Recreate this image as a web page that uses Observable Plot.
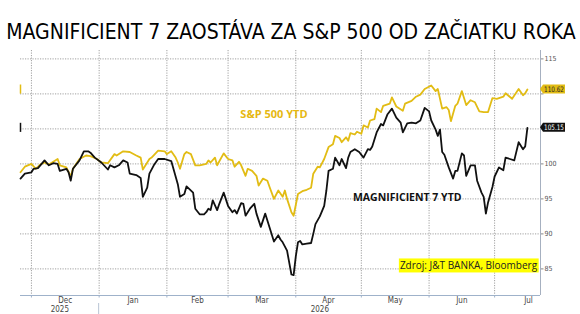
<!DOCTYPE html>
<html>
<head>
<meta charset="utf-8">
<script src="https://cdn.jsdelivr.net/npm/d3@7"></script>
<script src="https://cdn.jsdelivr.net/npm/@observablehq/plot@0.6"></script>
<style>
  html, body { margin: 0; padding: 0; background: #fff; }
  #chart svg { display: block; }
</style>
</head>
<body>
<div id="chart"></div>
<script>
// S&P 500 index, rebased to 100
const spxDates = ["2025-11-26","2025-11-28","2025-12-01","2025-12-03","2025-12-05","2025-12-07","2025-12-09","2025-12-13","2025-12-14","2025-12-17","2025-12-19","2025-12-20","2025-12-23","2025-12-26","2025-12-28","2025-12-31","2026-01-02","2026-01-05","2026-01-08","2026-01-09","2026-01-12","2026-01-15","2026-01-18","2026-01-20","2026-01-21","2026-01-24","2026-01-25","2026-01-28","2026-01-31","2026-02-01","2026-02-03","2026-02-05","2026-02-06","2026-02-07","2026-02-09","2026-02-10","2026-02-12","2026-02-14","2026-02-16","2026-02-19","2026-02-20","2026-02-21","2026-02-23","2026-02-24","2026-02-27","2026-03-01","2026-03-03","2026-03-04","2026-03-06","2026-03-07","2026-03-09","2026-03-10","2026-03-12","2026-03-14","2026-03-15","2026-03-17","2026-03-19","2026-03-20","2026-03-22","2026-03-24","2026-03-26","2026-03-27","2026-03-28","2026-03-30","2026-03-31","2026-04-02","2026-04-04","2026-04-06","2026-04-08","2026-04-09","2026-04-11","2026-04-12","2026-04-14","2026-04-16","2026-04-18","2026-04-19","2026-04-21","2026-04-22","2026-04-24","2026-04-25","2026-04-26","2026-04-28","2026-04-29","2026-05-01","2026-05-02","2026-05-04","2026-05-05","2026-05-07","2026-05-08","2026-05-10","2026-05-11","2026-05-14","2026-05-15","2026-05-17","2026-05-20","2026-05-21","2026-05-24","2026-05-26","2026-05-28","2026-05-30","2026-06-02","2026-06-04","2026-06-05","2026-06-07","2026-06-09","2026-06-10","2026-06-11","2026-06-13","2026-06-14","2026-06-16","2026-06-17","2026-06-18","2026-06-20","2026-06-22","2026-06-24","2026-06-26","2026-06-28","2026-06-30","2026-07-02","2026-07-05","2026-07-06","2026-07-09","2026-07-12","2026-07-14","2026-07-15","2026-07-16"];
const spxValues = [98.8,99.6,100.0,99.3,99.9,100.2,99.9,100.7,99.8,99.5,98.2,99.3,100.7,101.2,101.1,100.7,100.2,100.1,101.4,101.2,101.8,101.7,101.2,100.9,99.2,100.7,100.9,101.9,101.8,101.4,101.8,100.9,100.2,99.3,101.4,101.7,101.4,99.8,99.8,100.0,100.5,100.2,100.9,99.8,101.5,100.7,100.5,99.6,100.3,99.8,98.3,99.3,99.0,98.3,96.9,97.9,97.6,96.7,95.0,96.2,95.3,96.2,95.0,93.1,92.6,95.7,96.1,96.3,96.6,98.6,99.6,99.5,100.7,102.4,102.8,104.0,103.7,103.1,103.8,103.3,104.4,104.2,104.6,104.3,105.5,105.2,106.2,106.4,107.9,107.4,108.3,108.6,109.5,108.2,107.6,108.6,109.0,109.6,109.9,110.7,111.2,110.4,110.7,107.9,108.1,107.7,106.1,108.3,108.6,110.4,109.4,108.4,109.1,108.8,107.5,107.4,107.4,109.4,109.3,109.6,110.1,109.3,110.7,109.8,110.1,110.62];

// Magnificent 7 basket, rebased to 100
const mag7Dates = ["2025-11-26","2025-11-28","2025-12-01","2025-12-02","2025-12-04","2025-12-07","2025-12-09","2025-12-11","2025-12-13","2025-12-14","2025-12-17","2025-12-18","2025-12-19","2025-12-20","2025-12-23","2025-12-25","2025-12-27","2025-12-28","2025-12-30","2026-01-02","2026-01-05","2026-01-06","2026-01-08","2026-01-10","2026-01-12","2026-01-14","2026-01-15","2026-01-18","2026-01-20","2026-01-21","2026-01-23","2026-01-24","2026-01-26","2026-01-28","2026-01-31","2026-02-03","2026-02-04","2026-02-06","2026-02-07","2026-02-09","2026-02-10","2026-02-13","2026-02-14","2026-02-16","2026-02-18","2026-02-19","2026-02-20","2026-02-21","2026-02-22","2026-02-24","2026-02-25","2026-02-27","2026-03-01","2026-03-03","2026-03-04","2026-03-05","2026-03-07","2026-03-08","2026-03-09","2026-03-11","2026-03-13","2026-03-14","2026-03-16","2026-03-18","2026-03-20","2026-03-22","2026-03-24","2026-03-25","2026-03-26","2026-03-28","2026-03-29","2026-03-30","2026-03-31","2026-04-01","2026-04-02","2026-04-03","2026-04-04","2026-04-06","2026-04-08","2026-04-09","2026-04-10","2026-04-12","2026-04-14","2026-04-15","2026-04-16","2026-04-18","2026-04-19","2026-04-21","2026-04-22","2026-04-24","2026-04-25","2026-04-26","2026-04-28","2026-04-30","2026-05-02","2026-05-04","2026-05-05","2026-05-06","2026-05-08","2026-05-10","2026-05-11","2026-05-13","2026-05-15","2026-05-17","2026-05-19","2026-05-20","2026-05-22","2026-05-24","2026-05-26","2026-05-28","2026-05-30","2026-06-01","2026-06-02","2026-06-04","2026-06-05","2026-06-06","2026-06-07","2026-06-08","2026-06-10","2026-06-12","2026-06-13","2026-06-14","2026-06-16","2026-06-17","2026-06-18","2026-06-20","2026-06-22","2026-06-23","2026-06-25","2026-06-26","2026-06-27","2026-06-28","2026-06-30","2026-07-01","2026-07-03","2026-07-05","2026-07-06","2026-07-08","2026-07-10","2026-07-12","2026-07-14","2026-07-15","2026-07-16"];
const mag7Values = [97.9,98.6,98.8,99.3,99.4,100.5,99.8,100.1,100.0,99.0,99.3,98.8,97.6,99.3,100.5,101.8,101.8,101.6,100.9,100.2,99.2,99.8,99.5,99.8,100.5,100.2,98.6,98.4,98.0,95.3,96.6,98.6,99.8,100.7,100.7,100.4,99.3,97.1,95.3,95.7,96.8,95.9,93.6,92.8,92.8,93.1,93.6,93.4,94.8,93.4,94.3,95.9,94.0,93.1,93.4,92.9,94.4,94.3,92.6,93.6,94.3,92.9,91.0,92.9,90.9,88.9,89.8,89.2,88.8,87.6,85.9,84.2,84.1,86.8,88.8,89.0,88.5,88.6,88.7,90.0,91.4,92.5,94.0,96.2,99.0,99.3,100.9,99.8,100.7,99.4,100.9,101.7,102.1,101.7,100.9,102.1,102.0,102.5,104.5,105.7,105.5,107.1,107.9,106.6,105.9,104.5,105.8,105.9,105.8,106.2,108.0,107.5,106.2,104.9,104.0,104.9,101.7,101.3,99.5,97.9,99.0,99.0,101.5,101.2,98.3,99.8,99.8,97.6,95.9,95.3,92.9,94.5,96.7,98.2,99.5,99.1,100.9,100.7,100.5,103.1,102.1,102.5,105.15];

const lastSpx = 110.62;
const lastMag7 = 105.15;

// Axis ticks and labels
const yTicks = [85, 90, 95, 100, 105, 110, 115];
const monthStarts = ["2025-12-01","2026-01-01","2026-02-01","2026-03-01","2026-04-01","2026-05-01","2026-06-01","2026-07-01","2026-08-01"];
const monthLabels = ["Dec","Jan","Feb","Mar","Apr","May","Jun","Jul"];
const yearLabels = ["2025","2026"];
const yearStart = "2026-01-01";

const titleText = "MAGNIFICIENT 7 ZAOSTÁVA ZA S&P 500 OD ZAČIATKU ROKA";
const spxLabel = "S&P 500 YTD";
const mag7Label = "MAGNIFICIENT 7 YTD";
const sourceText = "Zdroj: J&T BANKA, Bloomberg";

const gold = "#e2bc14";
const ink = "#111111";

const parse = d3.utcParse("%Y-%m-%d");
const spx = spxDates.map((d, i) => ({date: parse(d), value: spxValues[i]}));
const mag7 = mag7Dates.map((d, i) => ({date: parse(d), value: mag7Values[i]}));
const xDomain = [parse("2025-11-26"), parse("2026-07-22")];
const yDomain = [81.2, 116.2];

const months = monthStarts.map(parse);
const gridMonths = months.slice(0, 8);
const monthMids = monthLabels.map((m, i) => ({label: m, date: new Date((+months[i] + +months[i + 1]) / 2)}));
const yStart = parse(yearStart);
const yearMids = [
  {label: yearLabels[0], date: new Date((+xDomain[0] + +yStart) / 2)},
  {label: yearLabels[1], date: new Date((+yStart + +xDomain[1]) / 2)}
];

// Tick labels that sit under the last-value tags stay blank
const tagged = [lastSpx, lastMag7];
const tickLabel = t => tagged.some(v => Math.abs(v - t) < 1) ? "" : String(t);

const narrow = "'Liberation Sans Narrow', 'DejaVu Sans Condensed', 'Liberation Sans', sans-serif";
const grid = {stroke: "#a0a0a0", strokeDasharray: "1.2,1.3", strokeWidth: 1};

const chart = Plot.plot({
  width: 580,
  height: 314,
  marginTop: 50,
  marginRight: 40,
  marginBottom: 19,
  marginLeft: 20,
  style: {background: "#fff", fontFamily: narrow},
  x: {type: "utc", domain: xDomain, axis: null},
  y: {domain: yDomain, axis: null},
  marks: [
    Plot.ruleY(yTicks, grid),
    Plot.ruleX(gridMonths, grid),
    Plot.ruleY([yDomain[0]], {stroke: "#9fb2ca", strokeWidth: 1}),
    Plot.ruleX([xDomain[1]], {stroke: "#a6b0c0", strokeWidth: 1}),
    Plot.axisY(yTicks, {anchor: "right", tickSize: 2.5, tickPadding: 1.5, tickFormat: tickLabel, fontSize: 7, fill: "#555", stroke: "#888", label: null}),
    Plot.axisX(gridMonths, {anchor: "bottom", tickSize: 2.5, tickFormat: () => "", stroke: "#9fb2ca", label: null}),
    Plot.text(monthMids, {x: "date", text: "label", frameAnchor: "bottom", lineAnchor: "top", dy: 2, fontSize: 8, fill: "#444"}),
    Plot.text(yearMids, {x: "date", text: "label", frameAnchor: "bottom", lineAnchor: "top", dy: 11, fontSize: 8, fill: "#444"}),
    Plot.line(spx, {x: "date", y: "value", stroke: gold, strokeWidth: 1.8}),
    Plot.line(mag7, {x: "date", y: "value", stroke: ink, strokeWidth: 1.8}),
    Plot.ruleX([lastSpx], {x: () => xDomain[0], y1: d => d - 0.65, y2: d => d + 0.65, stroke: gold, strokeWidth: 1.5}),
    Plot.ruleX([lastMag7], {x: () => xDomain[0], y1: d => d - 0.65, y2: d => d + 0.65, stroke: ink, strokeWidth: 1.5}),
    Plot.text([spxLabel], {x: parse("2026-03-22"), y: 107.0, text: d => d, fill: "#e6b812", fontSize: 11, fontWeight: "bold", fontFamily: "'Open Sans', sans-serif"}),
    Plot.text([mag7Label], {x: parse("2026-05-22"), y: 95.2, text: d => d, fill: ink, fontSize: 10.5, fontWeight: "bold", fontFamily: "'Open Sans', sans-serif"})
  ]
});

document.getElementById("chart").appendChild(chart);

const svg = d3.select(chart);
const xs = chart.scale("x");
const ys = chart.scale("y");
const right = 580 - 40;

// Title across the top, sized to span the width
const title = svg.append("text")
  .attr("x", 291).attr("y", 33)
  .attr("text-anchor", "middle").attr("dominant-baseline", "middle")
  .attr("font-family", narrow).attr("font-size", 22).attr("fill", "#000")
  .text(titleText);
const natural = title.node().getComputedTextLength();
title.attr("font-size", Math.min(22, 22 * 570 / natural));

// Year separator below the axis
const sepX = xs.apply(yStart);
svg.append("line")
  .attr("x1", sepX).attr("x2", sepX).attr("y1", 303).attr("y2", 314)
  .attr("stroke", "#b8c4d4").attr("stroke-width", 1);

// Last-value tags on the right axis
[[lastSpx, gold, "#222"], [lastMag7, "#111", "#fff"]].forEach(([v, bg, fg]) => {
  const cy = ys.apply(v);
  const g = svg.append("g");
  g.append("path")
    .attr("d", `M${right},${cy} L${right + 3},${cy - 4.5} L${right + 25},${cy - 4.5} L${right + 25},${cy + 4.5} L${right + 3},${cy + 4.5} Z`)
    .attr("fill", bg);
  g.append("text")
    .attr("x", right + 14).attr("y", cy).attr("dy", "0.35em")
    .attr("text-anchor", "middle").attr("font-family", narrow).attr("font-size", 7.5)
    .attr("textLength", 20).attr("lengthAdjust", "spacingAndGlyphs")
    .attr("fill", fg).text(v.toFixed(2));
});

// Source note with highlighted background
const src = svg.append("g");
const srcText = src.append("text")
  .attr("x", 468.5).attr("y", ys.apply(85.35)).attr("dy", "0.35em")
  .attr("text-anchor", "middle").attr("font-family", "'Open Sans', sans-serif")
  .attr("font-size", 10).attr("fill", "#222").text(sourceText);
const bb = srcText.node().getBBox();
src.insert("rect", "text")
  .attr("x", bb.x - 1).attr("y", bb.y).attr("width", bb.width + 2).attr("height", bb.height)
  .attr("fill", "#ffff00");
</script>
</body>
</html>
